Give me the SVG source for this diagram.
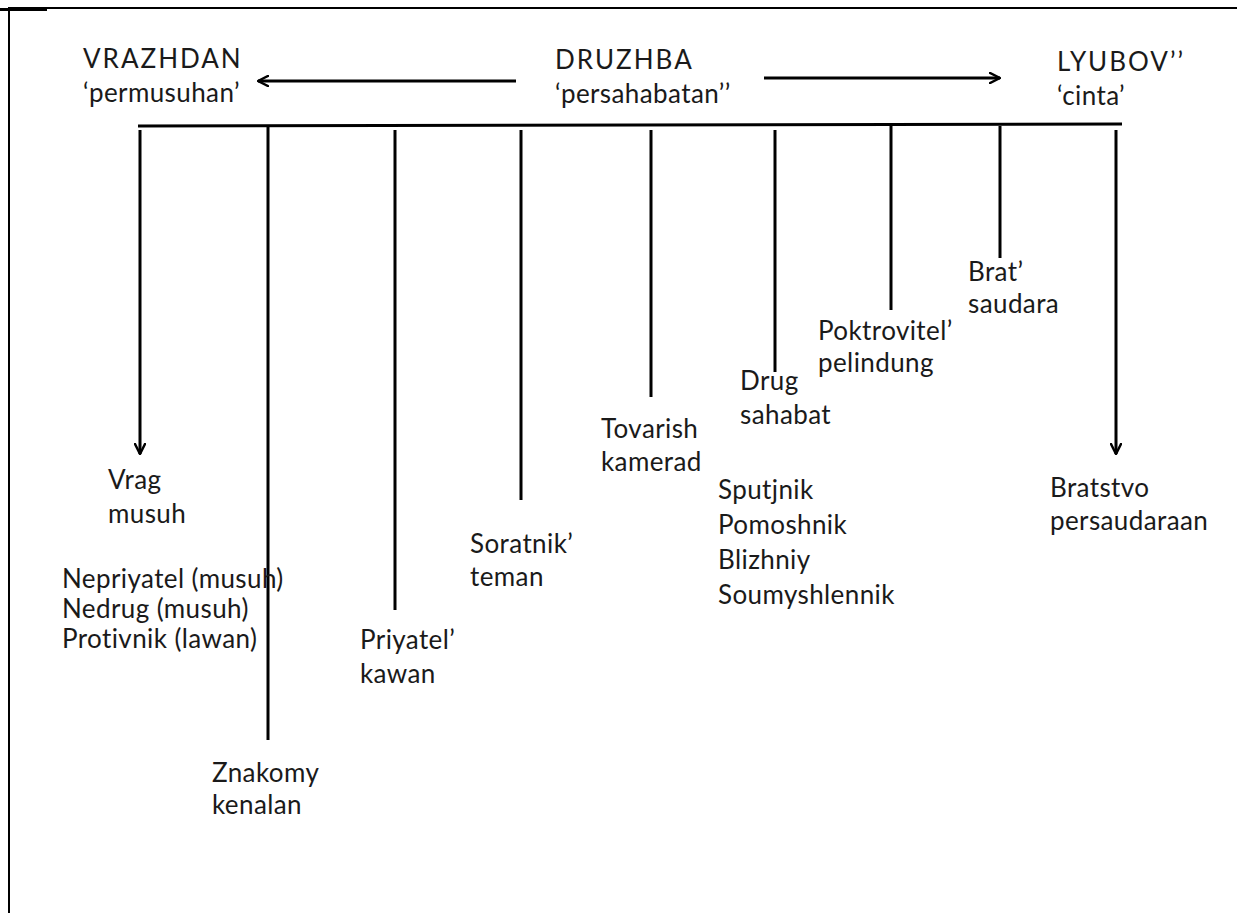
<svg xmlns="http://www.w3.org/2000/svg" width="1239" height="913" viewBox="0 0 1239 913">
<style>
text{font-family:Lato,"Noto Sans","Liberation Sans",sans-serif;font-size:26px;fill:#1a1a1a;letter-spacing:0.4px}
.cap{letter-spacing:2px}
.ln{stroke:#000;stroke-width:3;fill:none}
.bd{stroke:#000;stroke-width:2;fill:none}
</style>
<defs>
<marker id="ah" viewBox="0 0 12 12" refX="11" refY="6" markerWidth="12" markerHeight="12" markerUnits="userSpaceOnUse" orient="auto">
<path d="M1,1 L11,6 L1,11" fill="none" stroke="#000" stroke-width="2.5" stroke-linecap="round" stroke-linejoin="round"/>
</marker>
</defs>
<rect width="1239" height="913" fill="#fff"/>
<g id="border">
<line class="bd" x1="8" y1="8" x2="1237" y2="8"/>
<line class="bd" x1="9" y1="8" x2="9" y2="913"/>
<line x1="0" y1="9.5" x2="47" y2="9.5" stroke="#000" stroke-width="3"/>
</g>
<g id="connectors">
<line class="ln" x1="516" y1="81" x2="258" y2="81" marker-end="url(#ah)"/>
<line class="ln" x1="764" y1="78" x2="1000" y2="78" marker-end="url(#ah)"/>
<line class="ln" x1="138" y1="126" x2="1122" y2="124"/>
<line class="ln" x1="140" y1="130" x2="140" y2="454" marker-end="url(#ah)"/>
<line class="ln" x1="268" y1="126" x2="268" y2="740"/>
<line class="ln" x1="395" y1="130" x2="395" y2="610"/>
<line class="ln" x1="521" y1="130" x2="521" y2="500"/>
<line class="ln" x1="651" y1="130" x2="651" y2="397"/>
<line class="ln" x1="775" y1="130" x2="775" y2="372"/>
<line class="ln" x1="891" y1="126" x2="891" y2="310"/>
<line class="ln" x1="1000" y1="126" x2="1000" y2="258"/>
<line class="ln" x1="1116" y1="130" x2="1116" y2="454" marker-end="url(#ah)"/>
</g>
<g id="vrazhdan"><text class="cap" x="83" y="68">VRAZHDAN</text><text x="83" y="102">‘permusuhan’</text></g>
<g id="druzhba"><text class="cap" x="555" y="69">DRUZHBA</text><text x="555" y="103">‘persahabatan’’</text></g>
<g id="lyubov"><text class="cap" x="1057" y="71">LYUBOV’’</text><text x="1057" y="105">‘cinta’</text></g>
<g id="vrag"><text x="108" y="489">Vrag</text><text x="108" y="523">musuh</text></g>
<g id="nepriyatel"><text x="62" y="588">Nepriyatel (musuh)</text><text x="62" y="618">Nedrug (musuh)</text><text x="62" y="648">Protivnik (lawan)</text></g>
<g id="znakomy"><text x="212" y="782">Znakomy</text><text x="212" y="814">kenalan</text></g>
<g id="priyatel"><text x="360" y="649">Priyatel’</text><text x="360" y="683">kawan</text></g>
<g id="soratnik"><text x="470" y="553">Soratnik’</text><text x="470" y="586">teman</text></g>
<g id="tovarish"><text x="601" y="438">Tovarish</text><text x="601" y="471">kamerad</text></g>
<g id="drug"><text x="740" y="390">Drug</text><text x="740" y="424">sahabat</text></g>
<g id="sputjnik"><text x="718" y="499">Sputjnik</text><text x="718" y="534">Pomoshnik</text><text x="718" y="569">Blizhniy</text><text x="718" y="604">Soumyshlennik</text></g>
<g id="poktrovitel"><text x="818" y="340">Poktrovitel’</text><text x="818" y="372">pelindung</text></g>
<g id="brat"><text x="968" y="281">Brat’</text><text x="968" y="313">saudara</text></g>
<g id="bratstvo"><text x="1050" y="497">Bratstvo</text><text x="1050" y="530">persaudaraan</text></g>
</svg>
